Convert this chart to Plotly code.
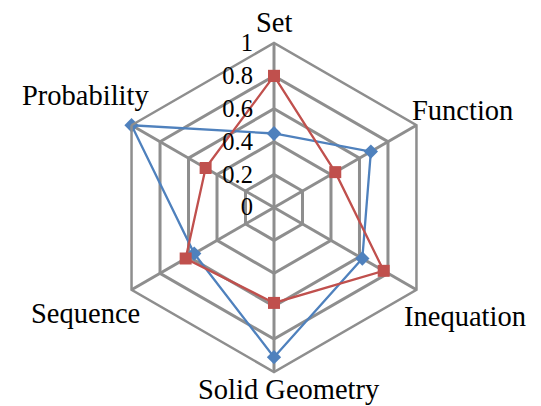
import plotly.graph_objects as go

categories = ["Set", "Function", "Inequation", "Solid Geometry", "Sequence", "Probability"]
series_red = [0.80, 0.43, 0.77, 0.58, 0.62, 0.48]
series_blue = [0.45, 0.68, 0.62, 0.91, 0.56, 1.00]
radial_ticks = [0, 0.2, 0.4, 0.6, 0.8, 1]
radial_ticktext = ["0", "0.2", "0.4", "0.6", "0.8", "1"]

RED = "#C0504D"
BLUE = "#4F81BD"
GRID = "#8E8E8E"
FONT = "Liberation Serif"

W, H = 541, 406
cx, cy, R = 274, 207.5, 164.5

# category label placement in pixels: (x, y, horizontal anchor)
label_place = {
    "Set": (274, 22, "center"),
    "Function": (410, 110, "left"),
    "Inequation": (402, 316, "left"),
    "Solid Geometry": (289, 389, "center"),
    "Sequence": (142, 313, "right"),
    "Probability": (151, 96, "right"),
}


def closed(values):
    return values + values[:1]


fig = go.Figure()
fig.add_trace(go.Scatterpolar(
    r=closed(series_blue), theta=closed(categories), mode="lines+markers",
    line=dict(color=BLUE, width=2.3),
    marker=dict(symbol="diamond", size=11, color=BLUE),
    showlegend=False,
))
fig.add_trace(go.Scatterpolar(
    r=closed(series_red), theta=closed(categories), mode="lines+markers",
    line=dict(color=RED, width=2.3),
    marker=dict(symbol="square", size=12, color=RED),
    showlegend=False,
))

for name in categories:
    px, py, anchor = label_place[name]
    fig.add_annotation(
        text=name, xref="paper", yref="paper",
        x=px / W, y=1 - py / H, xanchor=anchor, yanchor="middle",
        showarrow=False,
        font=dict(size=28.5, family=FONT, color="black"),
    )

fig.update_layout(
    width=W, height=H,
    margin=dict(l=0, r=0, t=0, b=0),
    paper_bgcolor="white",
    plot_bgcolor="white",
    font=dict(family=FONT, color="black"),
    polar=dict(
        domain=dict(x=[(cx - R) / W, (cx + R) / W],
                    y=[(H - cy - R) / H, (H - cy + R) / H]),
        bgcolor="white",
        gridshape="linear",
        radialaxis=dict(
            range=[0, 1], tickvals=radial_ticks, ticktext=radial_ticktext,
            angle=90, tickangle=90, side="counterclockwise",
            showline=False,
            # invisible ticks push the labels away from the spoke
            ticks="outside", ticklen=12, tickcolor="rgba(0,0,0,0)",
            gridcolor=GRID, gridwidth=2.5,
            tickfont=dict(size=24.5, family=FONT, color="black"),
        ),
        angularaxis=dict(
            direction="clockwise", rotation=90,
            showline=True, linecolor=GRID, linewidth=2.5,
            gridcolor=GRID, gridwidth=2.5, ticks="",
            showticklabels=False,
        ),
    ),
)

fig.write_html("out.html")
